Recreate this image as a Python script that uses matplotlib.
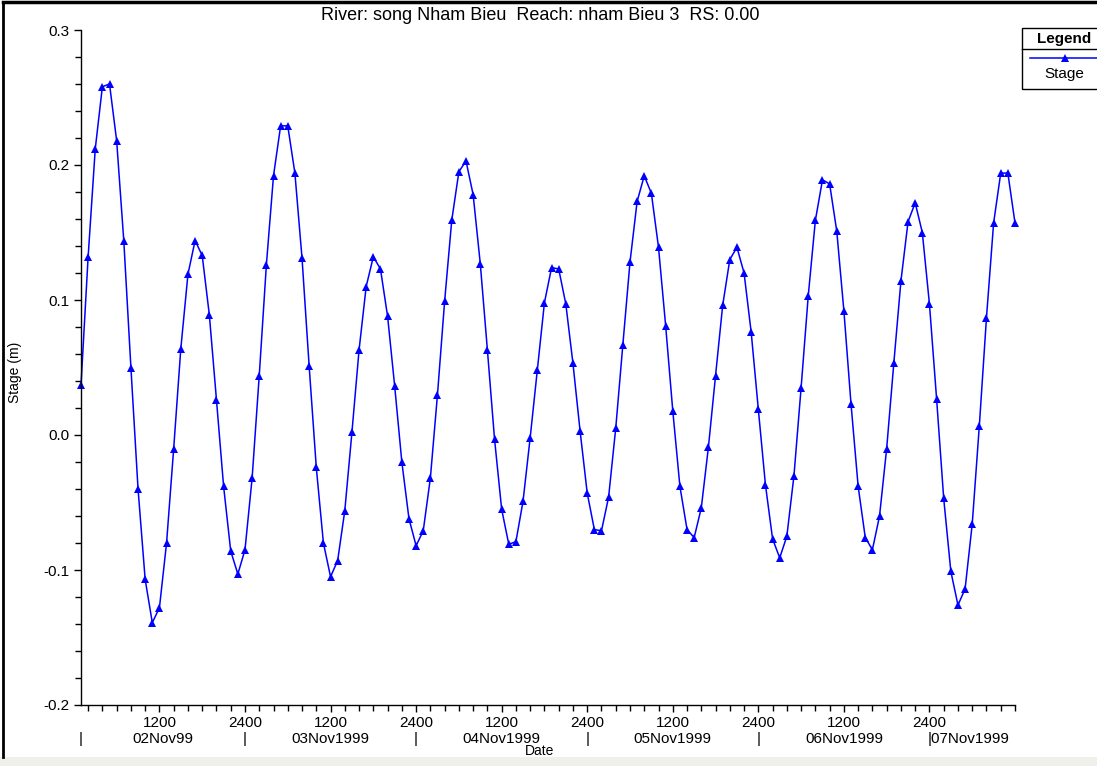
import matplotlib
matplotlib.use("Agg")
import matplotlib.pyplot as plt
from matplotlib.ticker import FixedLocator, MultipleLocator, FuncFormatter
from matplotlib.lines import Line2D
from matplotlib.patches import Rectangle
import matplotlib.transforms as mtransforms

plt.rcParams['font.family'] = ['Liberation Sans', 'DejaVu Sans']

# Hourly stage values, 01:00 02Nov1999 .. 12:00 07Nov1999
hours = list(range(1, 133))
stage = [
    0.037, 0.132, 0.212, 0.258, 0.260, 0.218, 0.144, 0.050, -0.040, -0.107,
    -0.139, -0.128, -0.080, -0.010, 0.064, 0.119, 0.144, 0.133, 0.089, 0.026,
    -0.038, -0.086, -0.103, -0.085, -0.032, 0.044, 0.126, 0.192, 0.229, 0.229,
    0.194, 0.131, 0.051, -0.024, -0.080, -0.105, -0.093, -0.056, 0.002, 0.063,
    0.110, 0.132, 0.123, 0.088, 0.036, -0.020, -0.062, -0.082, -0.071, -0.032,
    0.030, 0.099, 0.159, 0.195, 0.203, 0.178, 0.127, 0.063, -0.003, -0.055,
    -0.081, -0.079, -0.049, -0.002, 0.048, 0.098, 0.124, 0.123, 0.097, 0.053,
    0.003, -0.043, -0.070, -0.071, -0.046, 0.005, 0.067, 0.128, 0.173, 0.192,
    0.179, 0.139, 0.081, 0.018, -0.038, -0.070, -0.076, -0.054, -0.009, 0.044,
    0.096, 0.130, 0.139, 0.120, 0.076, 0.019, -0.037, -0.077, -0.091, -0.075,
    -0.030, 0.035, 0.103, 0.159, 0.189, 0.186, 0.151, 0.092, 0.023, -0.038,
    -0.076, -0.085, -0.060, -0.010, 0.053, 0.114, 0.158, 0.172, 0.150, 0.097,
    0.027, -0.047, -0.101, -0.126, -0.114, -0.066, 0.007, 0.087, 0.157, 0.194,
    0.194, 0.157,
]

hour_ticks = [12, 24, 36, 48, 60, 72, 84, 96, 108, 120]
hour_labels = ["1200", "2400"] * 5
day_bars = [1, 24, 48, 72, 96]
day_names = ["02Nov99", "03Nov1999", "04Nov1999", "05Nov1999", "06Nov1999"]
day_centers = [12.5, 36, 60, 84, 108]
last_day_bar = 120
last_day_name = "07Nov1999"

title = "River: song Nham Bieu  Reach: nham Bieu 3  RS: 0.00"

W, H = 1097, 766
fig = plt.figure(figsize=(W / 100, H / 100), dpi=100)
fig.patch.set_facecolor("white")

def fx(px):
    return px / W

def fy(py):
    return 1 - py / H

ax = fig.add_axes([fx(81), fy(705), fx(1015) - fx(81), fy(30) - fy(705)])
ax.plot(hours, stage, color="#0000ff", lw=1.1, marker="^", ms=5.5,
        markeredgewidth=0, clip_on=False)

ax.set_xlim(1, 132)
ax.set_ylim(-0.2, 0.3)
for s in ["top", "right"]:
    ax.spines[s].set_visible(False)
for s in ["left", "bottom"]:
    ax.spines[s].set_linewidth(1.0)
    ax.spines[s].set_color("black")

ax.yaxis.set_major_locator(FixedLocator([-0.2, -0.1, 0.0, 0.1, 0.2, 0.3]))
ax.yaxis.set_minor_locator(MultipleLocator(0.02))
ax.yaxis.set_major_formatter(FuncFormatter(lambda v, p: ("%.1f" % v).replace("\u2212", "-")))
ax.xaxis.set_major_locator(FixedLocator(hour_ticks))
ax.xaxis.set_minor_locator(MultipleLocator(2))
ax.set_xticklabels(hour_labels)
ax.tick_params(axis="both", which="major", length=5, width=1, labelsize=11, direction="out")
ax.tick_params(axis="both", which="minor", length=4, width=1, direction="out")
ax.tick_params(axis="x", pad=3)
ax.tick_params(axis="y", pad=3)

# Date row
trans = mtransforms.blended_transform_factory(ax.transData, fig.transFigure)
y_row = fy(739)
for b in day_bars:
    ax.text(b, y_row, "|", transform=trans, ha="center", va="center", fontsize=11)
for c, n in zip(day_centers, day_names):
    ax.text(c, y_row, n, transform=trans, ha="center", va="center", fontsize=11)
ax.text(last_day_bar - 0.3, y_row, "|" + last_day_name, transform=trans,
        ha="left", va="center", fontsize=11)
fig.text(fx(540), fy(751), "Date", ha="center", va="center", fontsize=10)

fig.text(fx(540), fy(16), title, ha="center", va="center", fontsize=13)

fig.text(fx(15), fy(372), "Stage (m)", rotation=90, ha="center", va="center", fontsize=10)

# Legend box
fig.add_artist(Rectangle((fx(1022), fy(89)), fx(1100) - fx(1022), fy(28) - fy(89),
                         transform=fig.transFigure, fill=False, ec="black", lw=1.0))
fig.add_artist(Line2D([fx(1022), fx(1100)], [fy(49), fy(49)], transform=fig.transFigure,
                      color="black", lw=1.0))
fig.text(fx(1064), fy(39), "Legend", ha="center", va="center", fontsize=11, fontweight="bold")
fig.add_artist(Line2D([fx(1030), fx(1100)], [fy(58), fy(58)], transform=fig.transFigure,
                      color="#0000ff", lw=1.1))
fig.add_artist(Line2D([fx(1065)], [fy(58)], transform=fig.transFigure,
                      color="#0000ff", marker="^", ms=5.5, markeredgewidth=0))
fig.text(fx(1064), fy(74), "Stage", ha="center", va="center", fontsize=11)

# Outer frame and bottom strip
fig.add_artist(Rectangle((0, 0), 1, fy(757), transform=fig.transFigure,
                         fc="#f0f0ea", ec="none"))
fig.add_artist(Line2D([fx(3), fx(3)], [fy(757), fy(2)], transform=fig.transFigure,
                      color="black", lw=2))
fig.add_artist(Line2D([fx(3), 1], [fy(2), fy(2)], transform=fig.transFigure,
                      color="black", lw=2.5))

fig.savefig("out.png", dpi=100)
